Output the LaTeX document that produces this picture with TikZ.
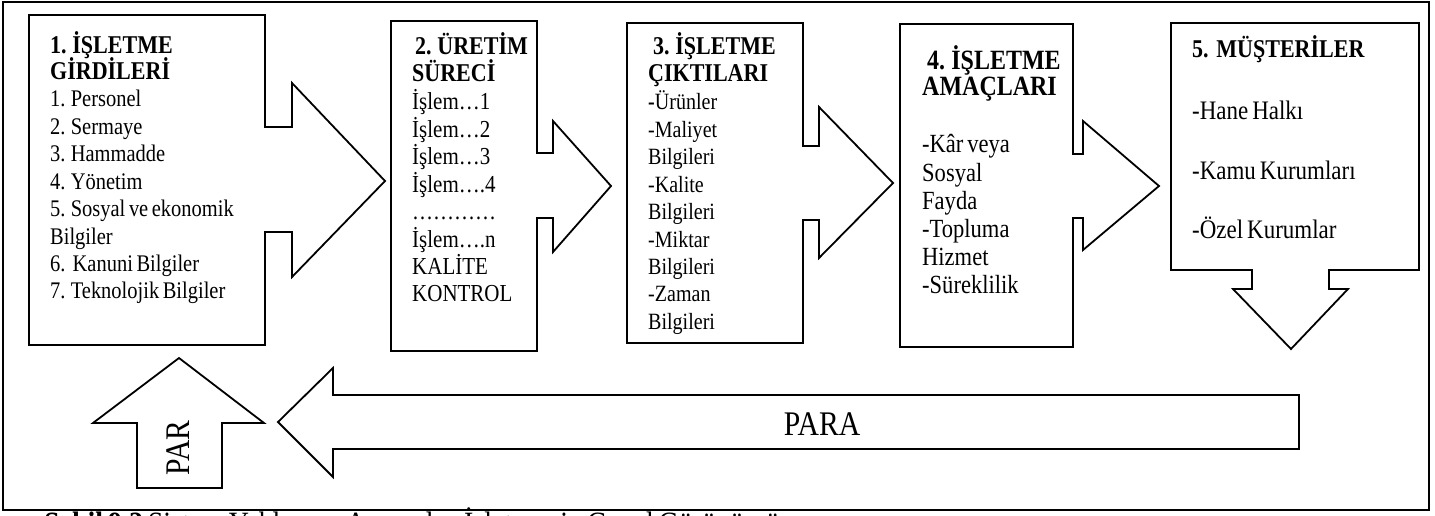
\documentclass[tikz,border=0pt]{standalone}
\usepackage{fontspec}
\setmainfont{Liberation Serif}[FakeStretch=0.86, WordSpace=0.7]
\begin{document}
\begin{tikzpicture}[x=1pt,y=-1pt]
\tikzset{
  shp/.style={draw=black, line width=1.8pt, fill=white, line join=miter},
  framebox/.style={draw=black, line width=1.8pt},
  tx/.style={inner sep=0pt, anchor=base west},
  hd/.style={tx, font=\fontsize{25.6}{30}\selectfont\bfseries},
  hdbig/.style={tx, font=\fontsize{27.9}{32}\selectfont\bfseries},
  bda/.style={tx, font=\fontsize{23.8}{28}\selectfont},
  bdb/.style={tx, font=\fontsize{24.4}{28}\selectfont},
  bdc/.style={tx, font=\fontsize{23.3}{28}\selectfont},
  bdd/.style={tx, font=\fontsize{26.2}{30}\selectfont},
  bde/.style={tx, font=\fontsize{26.7}{30}\selectfont},
  big/.style={inner sep=0pt, font=\fontsize{34.5}{40}\selectfont},
}
\useasboundingbox (0,0) rectangle (1435,516);
\clip (0,0) rectangle (1435,516);

% outer frame
\draw[framebox] (3,2) rectangle (1429,510);

% box 1
\draw[shp] (29,15) -- (265,15) -- (265,127) -- (292,127) -- (292,83) -- (385,181)
  -- (292,277) -- (292,232) -- (265,232) -- (265,345) -- (29,345) -- cycle;
% box 2
\draw[shp] (391,21) -- (537,21) -- (537,153) -- (553,153) -- (553,121) -- (611,186)
  -- (553,252) -- (553,218) -- (537,218) -- (537,351) -- (391,351) -- cycle;
% box 3
\draw[shp] (627,23) -- (803,23) -- (803,146) -- (819,146) -- (819,107) -- (893,183)
  -- (819,258) -- (819,220) -- (803,220) -- (803,343) -- (627,343) -- cycle;
% box 4
\draw[shp] (900,24) -- (1073,24) -- (1073,154) -- (1083,154) -- (1083,121) -- (1159,186)
  -- (1083,250) -- (1083,218) -- (1073,218) -- (1073,347) -- (900,347) -- cycle;
% box 5
\draw[shp] (1171,23) -- (1419,23) -- (1419,270) -- (1329,270) -- (1329,289) -- (1348,289)
  -- (1291,349) -- (1233,289) -- (1252,289) -- (1252,270) -- (1171,270) -- cycle;
% PARA arrow
\draw[shp] (1299,395) -- (333,395) -- (333,368) -- (278,422) -- (333,477) -- (333,449)
  -- (1299,449) -- cycle;
% PAR arrow
\draw[shp] (179,358) -- (264,423) -- (222,423) -- (222,488) -- (137,488) -- (137,423)
  -- (93,423) -- cycle;

% texts box 1
\node[hd] (b1h1) at (50,54) {1. İŞLETME};
\node[hd] (b1h2) at (50,80) {GİRDİLERİ};
\foreach \t [count=\i from 0] in {1. Personel, 2. Sermaye, 3. Hammadde, 4. Yönetim,
  5. Sosyal ve ekonomik, Bilgiler, 6.\ \ Kanuni Bilgiler, 7. Teknolojik Bilgiler}
  \node[bda] (b1-\i) at (50,{107+27.4*\i}) {\t};

% texts box 2
\node[hd] (b2h1) at (415,55) {2. ÜRETİM};
\node[hd] (b2h2) at (412,82) {SÜRECİ};
\foreach \t [count=\i from 0] in {İşlem…1, İşlem…2, İşlem…3, İşlem….4, …………,
  İşlem….n, KALİTE, KONTROL}
  \node[bdb] (b2-\i) at (412,{110+27.4*\i}) {\t};

% texts box 3
\node[hd] (b3h1) at (653,55) {3. İŞLETME};
\node[hd] (b3h2) at (648,82) {ÇIKTILARI};
\foreach \t [count=\i from 0] in {\textbf{-}Ürünler, -Maliyet, Bilgileri, -Kalite, Bilgileri,
  -Miktar, Bilgileri, -Zaman, Bilgileri}
  \node[bdc] (b3-\i) at (648,{110+27.4*\i}) {\t};

% texts box 4
\node[hdbig] (b4h1) at (927,70) {4. İŞLETME};
\node[hdbig] (b4h2) at (922,96) {AMAÇLARI};
\foreach \t [count=\i from 0] in {-Kâr veya, Sosyal, Fayda, -Topluma, Hizmet, -Süreklilik}
  \node[bdd] (b4-\i) at (922,{153+28*\i}) {\t};

% texts box 5
\node[hd] (b5h1) at (1192,58) {5.\ \ MÜŞTERİLER};
\node[bde] (b5-0) at (1192,120) {-Hane Halkı};
\node[bde] (b5-1) at (1192,179) {-Kamu Kurumları};
\node[bde] (b5-2) at (1192,238) {-Özel Kurumlar};

% arrow labels
\node[big] (para) at (822,424) {PARA};
\node[big, rotate=90] (par) at (178,448) {PAR};

% caption (cut off by the page edge, as in the reference)
\node[tx, font=\fontsize{32.5}{36}\selectfont] (cap) at (44,534)
  {\textbf{Şekil 9.2} Sistem Yaklaşımı Açısından İşletmenin Genel Görünümü};
\end{tikzpicture}
\end{document}
